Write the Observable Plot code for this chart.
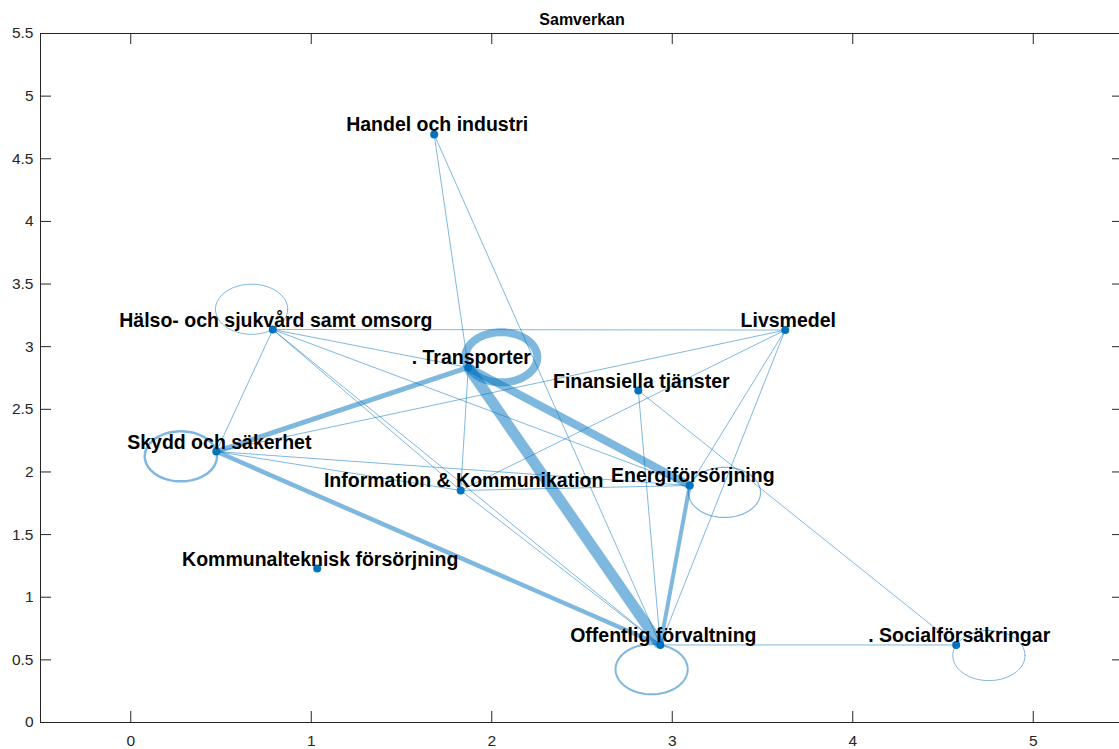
<!DOCTYPE html>
<html>
<head>
<meta charset="utf-8">
<script src="https://cdn.jsdelivr.net/npm/d3@7"></script>
<script src="https://cdn.jsdelivr.net/npm/@observablehq/plot@0.6"></script>
<style>
  html, body { margin: 0; padding: 0; background: #fff; overflow: hidden; }
  #chart svg { display: block; }
</style>
</head>
<body>
<div id="chart"></div>
<script>
// ---- data ----
const titleText = "Samverkan";
const nodeNames = [
  "Handel och industri",
  "Hälso- och sjukvård samt omsorg",
  "Livsmedel",
  ". Transporter",
  "Finansiella tjänster",
  "Skydd och säkerhet",
  "Information & Kommunikation",
  "Energiförsörjning",
  "Kommunalteknisk försörjning",
  "Offentlig förvaltning",
  ". Socialförsäkringar"
];
const nodeX = [1.681, 0.787, 3.626, 1.870, 2.812, 0.474, 1.828, 3.097, 1.033, 2.934, 4.573];
const nodeY = [4.694, 3.137, 3.133, 2.834, 2.650, 2.163, 1.852, 1.892, 1.229, 0.619, 0.619];

// edges (indices into nodeNames)
const edgeSource = [0, 0, 1, 1, 1, 1, 1, 1, 5, 5, 5, 5, 5, 3, 3, 3, 4, 4, 2, 2, 2, 6, 6, 7, 9];
const edgeTarget = [3, 9, 2, 3, 7, 6, 9, 5, 3, 2, 7, 6, 9, 7, 9, 6, 9, 10, 6, 7, 9, 7, 9, 9, 10];
const edgeWeight = [1, 1, 1, 1, 1, 1, 1, 1, 5, 1, 1, 1, 4.5, 8, 11, 1, 1, 1, 1, 1, 1, 1, 1, 4, 1];

// self-loops
const loopNode   = [1, 5, 3, 7, 9, 10];
const loopWeight = [1, 2.5, 8, 1.2, 2, 1];
const loopAngle  = [126, 191, 24, -16, 256, -25];   // direction of loop from node (degrees)
const loopRadius = 0.2;

const xTicks = [0, 1, 2, 3, 4, 5];
const yTicks = [0, 0.5, 1, 1.5, 2, 2.5, 3, 3.5, 4, 4.5, 5, 5.5];
const xDomain = [-0.5, 5.5];
const yDomain = [0, 5.5];

// ---- layout ----
const W = 1119, H = 749;
const mL = 40, mR = -4, mT = 33, mB = 27;
const edgeColor = "#0072BD";
const axisColor = "#262626";
const tickPx = 11;
const tlX = tickPx * (xDomain[1] - xDomain[0]) / (W - mL - mR);
const tlY = tickPx * (yDomain[1] - yDomain[0]) / (H - mT - mB);

const nodes = nodeNames.map((n, i) => ({name: n, x: nodeX[i], y: nodeY[i]}));
const edges = edgeSource.map((s, i) => ({
  x1: nodeX[s], y1: nodeY[s], x2: nodeX[edgeTarget[i]], y2: nodeY[edgeTarget[i]], w: edgeWeight[i]
}));

const loops = loopNode.map((n, i) => {
  const a = loopAngle[i] * Math.PI / 180;
  const cx = nodeX[n] + loopRadius * Math.cos(a);
  const cy = nodeY[n] + loopRadius * Math.sin(a);
  const pts = d3.range(0, 361, 4).map(t => {
    const r = t * Math.PI / 180;
    return {x: cx + loopRadius * Math.cos(r), y: cy + loopRadius * Math.sin(r)};
  });
  return {pts, w: loopWeight[i]};
});

const chart = Plot.plot({
  width: W,
  height: H,
  marginLeft: mL,
  marginRight: mR,
  marginTop: mT,
  marginBottom: mB,
  style: {fontFamily: "'Liberation Sans', Arial, Helvetica, sans-serif", background: "#fff", color: axisColor},
  x: {domain: xDomain},
  y: {domain: yDomain},
  marks: [
    Plot.frame({stroke: axisColor, strokeWidth: 1}),
    // inward ticks
    Plot.ruleX(xTicks, {x: d => d, y1: yDomain[0], y2: yDomain[0] + tlY, stroke: axisColor}),
    Plot.ruleX(xTicks, {x: d => d, y1: yDomain[1] - tlY, y2: yDomain[1], stroke: axisColor}),
    Plot.ruleY(yTicks, {y: d => d, x1: xDomain[0], x2: xDomain[0] + tlX, stroke: axisColor}),
    Plot.ruleY(yTicks, {y: d => d, x1: xDomain[1] - tlX, x2: xDomain[1], stroke: axisColor}),
    Plot.axisX({ticks: xTicks, tickSize: 0, tickPadding: 12.5, fontSize: 15.5, tickFormat: d => String(d), fill: axisColor}),
    Plot.axisY({ticks: yTicks, tickSize: 0, tickPadding: 7, fontSize: 15.5, tickFormat: d => String(d), fill: axisColor}),
    // edges
    Plot.link(edges, {x1: "x1", y1: "y1", x2: "x2", y2: "y2", stroke: edgeColor, strokeOpacity: 0.5, strokeWidth: "w"}),
    ...loops.map(l => Plot.line(l.pts, {x: "x", y: "y", stroke: edgeColor, strokeOpacity: 0.5, strokeWidth: l.w})),
    // nodes
    Plot.dot(nodes, {x: "x", y: "y", r: 4, fill: edgeColor, stroke: null}),
    Plot.text(nodes, {x: "x", y: "y", text: "name", fontSize: 19.5, fontWeight: "bold", fill: "#000", lineAnchor: "bottom", dx: 3, dy: -3}),
    // title
    Plot.text([titleText], {text: d => d, frameAnchor: "top", lineAnchor: "bottom", dy: -9, fontSize: 16, fontWeight: "bold", fill: "#000"})
  ]
});
document.getElementById("chart").appendChild(chart);
</script>
</body>
</html>
